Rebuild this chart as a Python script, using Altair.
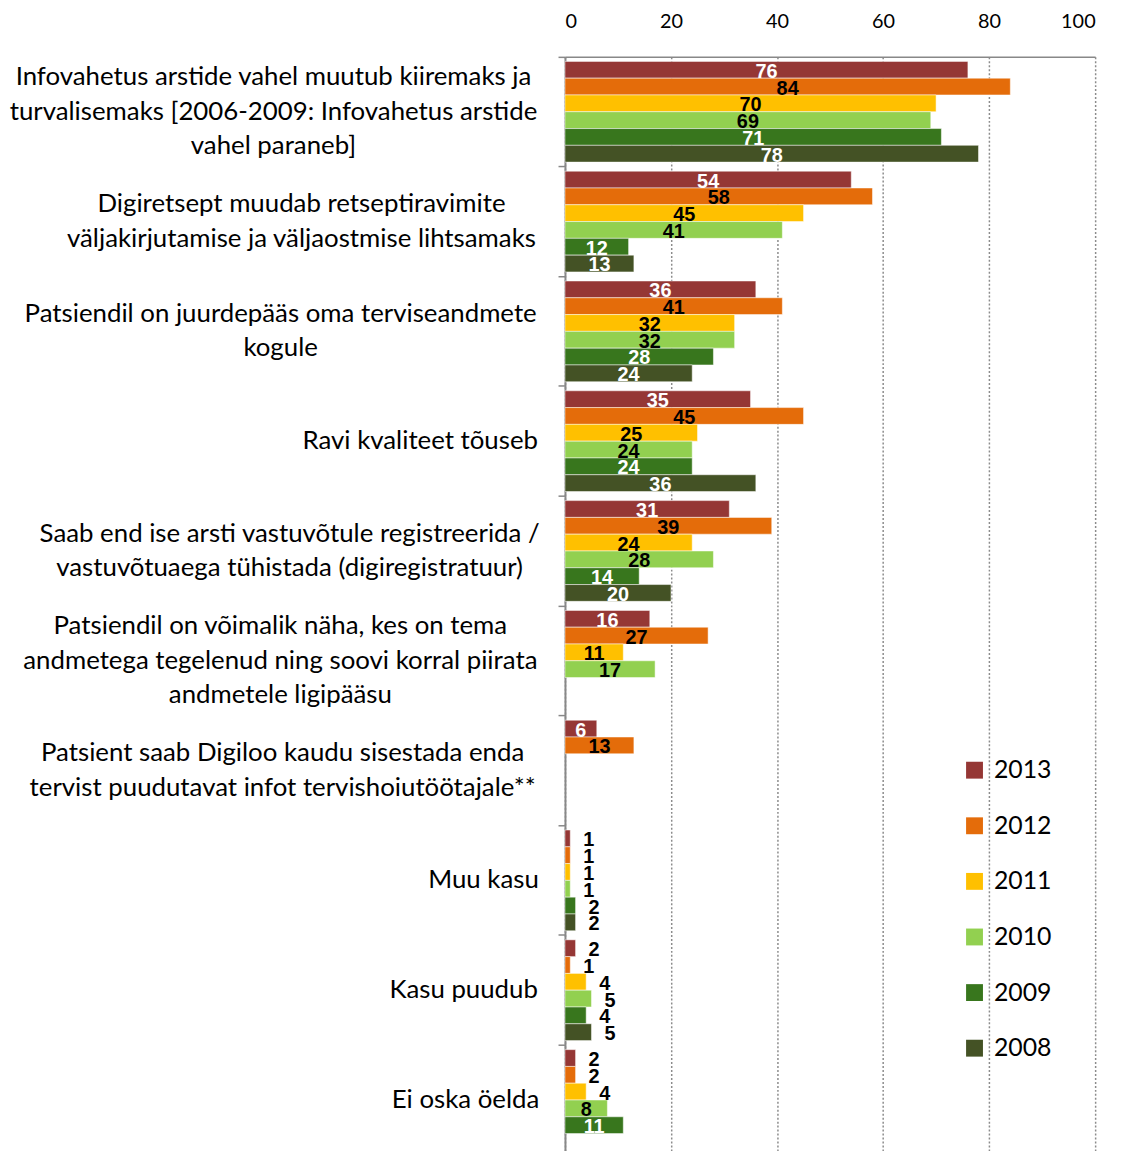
import altair as alt
import pandas as pd

categories = [
    "Infovahetus arstide vahel muutub kiiremaks ja\nturvalisemaks [2006-2009: Infovahetus arstide\nvahel paraneb]",
    "Digiretsept muudab retseptiravimite\nväljakirjutamise ja väljaostmise lihtsamaks",
    "Patsiendil on juurdepääs oma terviseandmete\nkogule",
    "Ravi kvaliteet tõuseb",
    "Saab end ise arsti vastuvõtule registreerida /\nvastuvõtuaega tühistada (digiregistratuur)",
    "Patsiendil on võimalik näha, kes on tema\nandmetega tegelenud ning soovi korral piirata\nandmetele ligipääsu",
    "Patsient saab Digiloo kaudu sisestada enda\ntervist puudutavat infot tervishoiutöötajale**",
    "Muu kasu",
    "Kasu puudub",
    "Ei oska öelda",
]
years = ["2013", "2012", "2011", "2010", "2009", "2008"]
v2013 = [76, 54, 36, 35, 31, 16, 6, 1, 2, 2]
v2012 = [84, 58, 41, 45, 39, 27, 13, 1, 1, 2]
v2011 = [70, 45, 32, 25, 24, 11, None, 1, 4, 4]
v2010 = [69, 41, 32, 24, 28, 17, None, 1, 5, 8]
v2009 = [71, 12, 28, 24, 14, None, None, 2, 4, 11]
v2008 = [78, 13, 24, 36, 20, None, None, 2, 5, None]
series = [v2013, v2012, v2011, v2010, v2009, v2008]
colors = ["#953735", "#E46C0A", "#FFC000", "#92D050", "#38761D", "#445225"]
white_label_years = ["2013", "2009", "2008"]
x_ticks = [0, 20, 40, 60, 80, 100]

CAT_FONT = 26
LINE_H = 34.5
# approximate Lato advance widths (em) to centre multi-line labels
WID = {
    " ": .193, "a": .51, "b": .57, "c": .47, "d": .57, "e": .53, "f": .33, "g": .51,
    "h": .57, "i": .24, "j": .24, "k": .52, "l": .24, "m": .85, "n": .57, "o": .57,
    "p": .57, "q": .57, "r": .38, "s": .43, "t": .37, "u": .57, "v": .52, "w": .78,
    "x": .50, "y": .52, "z": .45, "ä": .51, "ö": .57, "õ": .57, "ü": .57,
    "I": .27, "D": .72, "P": .60, "R": .61, "S": .52, "K": .65, "E": .55, "M": .87,
    "[": .30, "]": .30, ":": .26, "-": .36, "/": .39, "(": .30, ")": .30, "*": .42,
    ",": .22, ".": .22,
}


def text_w(s):
    return sum(WID.get(ch, .58) for ch in s) * CAT_FONT


rows = []
for y, vals in zip(years, series):
    for c, v in zip(categories, vals):
        if v is not None:
            rows.append({"cat": c, "year": y, "value": v})
df = pd.DataFrame(rows)

lab = pd.DataFrame({"cat": categories})
lab["lx"] = [-27 - max(text_w(l) for l in c.split("\n")) / 2 for c in categories]
lab["n"] = [len(c.split("\n")) for c in categories]

y_enc = alt.Y("cat:N", sort=categories,
              scale=alt.Scale(paddingInner=0, paddingOuter=0),
              axis=alt.Axis(labels=False, title=None, bandPosition=0, tickSize=7,
                            tickColor="#888888", tickWidth=1.5,
                            domainColor="#888888", domainWidth=2, grid=False))
yoff = alt.YOffset("year:N", sort=years, scale=alt.Scale(paddingOuter=0.27, paddingInner=0))
x_scale = alt.Scale(domain=[0, 100])
x_axis = alt.Axis(orient="top", values=x_ticks, title=None, ticks=False,
                  labelFont="Lato", labelFontSize=20, labelColor="#000000",
                  labelPadding=26, domainColor="#888888", domainWidth=1.5,
                  grid=True, gridColor="#8c8c8c", gridDash=[2, 2], gridWidth=1.5)

bars = alt.Chart(df).mark_bar(stroke="white", strokeWidth=0.5).encode(
    x=alt.X("value:Q", scale=x_scale, axis=x_axis),
    y=y_enc,
    yOffset=yoff,
    color=alt.Color("year:N", sort=years,
                    scale=alt.Scale(domain=years, range=colors),
                    legend=alt.Legend(title=None, orient="none", legendX=400, legendY=706,
                                      symbolType="square", symbolSize=289,
                                      symbolStrokeWidth=0, labelFont="Lato",
                                      labelFontSize=25, labelColor="#000000",
                                      rowPadding=30, labelOffset=7, padding=0)),
)

values = alt.Chart(df).transform_calculate(
    lx="datum.value < 6 ? datum.value + 3.5 : datum.value / 2",
    inside="datum.value >= 6 && indexof(" + str(white_label_years) + ", datum.year) >= 0",
).mark_text(font="Liberation Sans", fontWeight="bold", fontSize=20, dy=2,
            baseline="middle", align="center").encode(
    x=alt.X("lx:Q", scale=x_scale, axis=x_axis),
    y=alt.Y("cat:N", sort=categories),
    yOffset=yoff,
    text=alt.Text("value:Q"),
    color=alt.condition("datum.inside", alt.value("white"), alt.value("black")),
)

cat_layers = []
for n in [1, 2, 3]:
    cat_layers.append(
        alt.Chart(lab).transform_filter(f"datum.n == {n}").mark_text(
            font="Lato", fontSize=CAT_FONT, align="center", baseline="middle",
            lineBreak="\n", lineHeight=LINE_H, dy=-(n - 1) * LINE_H / 2,
            color="#000000").encode(
            x=alt.X("lx:Q", scale=None, axis=None),
            y=alt.Y("cat:N", sort=categories),
            text="cat:N",
        )
    )

main = alt.layer(bars, values)
chart = alt.layer(main, *cat_layers).resolve_scale(x="independent").properties(
    width=534, height=1106, autosize="none",
    padding={"left": 561, "top": 45, "right": 20, "bottom": 10},
).configure_view(stroke=None)

chart.save("out.html", embed_options={"renderer": "svg", "actions": False})
